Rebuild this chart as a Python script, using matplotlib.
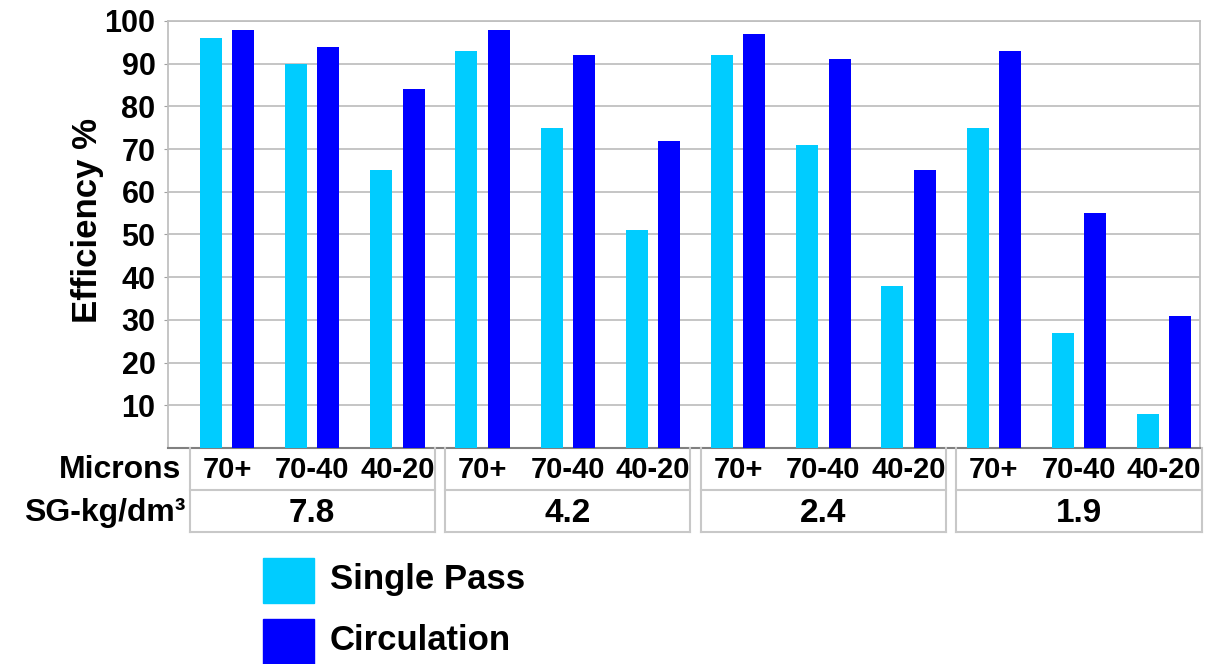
import numpy as np
import matplotlib
matplotlib.use("Agg")
import matplotlib.pyplot as plt
from matplotlib import transforms
from matplotlib.patches import Rectangle

# data
sg_values = ["7.8", "4.2", "2.4", "1.9"]
micron_bins = ["70+", "70-40", "40-20"]
single_pass = [96, 90, 65, 93, 75, 51, 92, 71, 38, 75, 27, 8]
circulation = [98, 94, 84, 98, 92, 72, 97, 91, 65, 93, 55, 31]
series_names = ["Single Pass", "Circulation"]
colors = ["#00CCFF", "#0000FF"]

plt.rcParams["font.family"] = ["Liberation Sans", "DejaVu Sans"]
plt.rcParams["font.weight"] = "bold"

W, H = 1205, 664
fig = plt.figure(figsize=(W / 100, H / 100), dpi=100)
ax = fig.add_axes([168 / W, 1 - 448 / H, (1200 - 168) / W, (448 - 21) / H])

x = np.arange(len(single_pass))
bw, off = 0.258, 0.19
ax.bar(x - off, single_pass, bw, color=colors[0], zorder=3)
ax.bar(x + off, circulation, bw, color=colors[1], zorder=3)

ax.set_xlim(-0.692, 11.42)
ax.set_ylim(0, 100)
ax.set_yticks(range(10, 101, 10))
ax.tick_params(axis="y", labelsize=22, length=3, color="#a0a0a0", pad=6)
ax.set_xticks([])
for lbl in ax.get_yticklabels():
    lbl.set_fontweight("bold")
ax.grid(axis="y", color="#c0c0c0", lw=1.3, zorder=0)
for s in ["left", "top", "right"]:
    ax.spines[s].set_color("#c0c0c0")
    ax.spines[s].set_linewidth(1.3)
ax.spines["bottom"].set_color("#808080")
ax.spines["bottom"].set_linewidth(1.5)


def fy(py):
    return 1 - py / H


fig.text(88 / W, fy(221), "Efficiency %", rotation=90, ha="center", va="center",
         fontsize=25, fontweight="bold")

# table under the axis: x in data units, y in pixels from the top
tr = transforms.blended_transform_factory(ax.transData, fig.transFigure)
half = 1.438
for k, sg in enumerate(sg_values):
    c = 1 + 3 * k
    x0, x1 = c - half, c + half
    for xs, ys in [([x0, x0], [448, 532]), ([x1, x1], [448, 532]),
                   ([x0, x1], [490, 490]), ([x0, x1], [532, 532])]:
        fig.add_artist(plt.Line2D(xs, [fy(v) for v in ys], transform=tr,
                                  color="#c8c8c8", lw=1.5))
    for j, m in enumerate(micron_bins):
        fig.text(3 * k + j, fy(470), m, transform=tr, ha="center", va="center",
                 fontsize=21, fontweight="bold")
    fig.text(c, fy(513), sg, transform=tr, ha="center", va="center",
             fontsize=24, fontweight="bold")

fig.text(181 / W, fy(470), "Microns", ha="right", va="center", fontsize=23, fontweight="bold")
fig.text(186 / W, fy(513), "SG-kg/dm³", ha="right", va="center", fontsize=23, fontweight="bold")

# legend
for i, name in enumerate(series_names):
    top = 558 + 61 * i
    fig.add_artist(Rectangle((263 / W, fy(top + 45)), 51 / W, 45 / H,
                             transform=fig.transFigure, color=colors[i]))
    fig.text(330 / W, fy(top + 22), name, ha="left", va="center",
             fontsize=25, fontweight="bold")

fig.savefig("out.png", dpi=100)
